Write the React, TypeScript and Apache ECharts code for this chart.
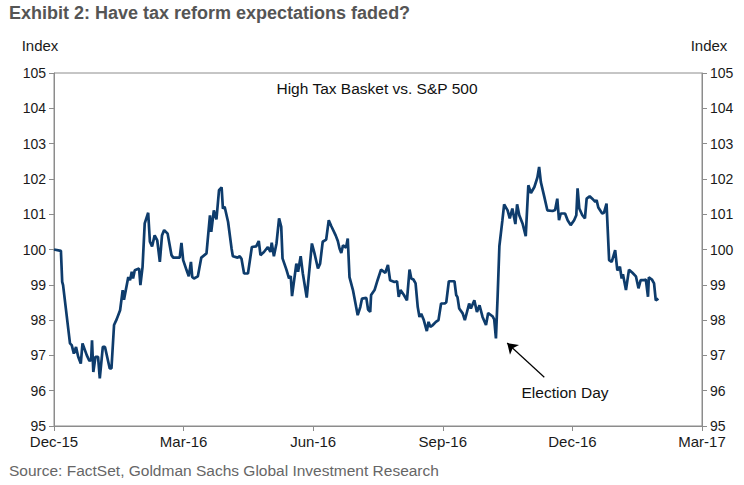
import React, { useEffect, useRef } from "react";
import * as echarts from "echarts";

const chartTitle = "Exhibit 2: Have tax reform expectations faded?";
const seriesName = "High Tax Basket vs. S&P 500";
const sourceText = "Source: FactSet, Goldman Sachs Global Investment Research";
const xTickLabels = ["Dec-15", "Mar-16", "Jun-16", "Sep-16", "Dec-16", "Mar-17"];
const yMin = 95;
const yMax = 105;

// months elapsed since Dec-15 (as placed on the chart's axis)
const monthsSinceDec15 = [
  0, 0.16, 0.19, 0.21, 0.37, 0.41, 0.46, 0.51, 0.56, 0.62, 0.66, 0.76, 0.82, 0.86, 0.88, 0.91, 0.96, 1.02, 1.06, 1.13,
  1.18, 1.23, 1.29, 1.33, 1.39, 1.45, 1.53, 1.59, 1.62, 1.72, 1.76, 1.8, 1.83, 1.87, 1.97, 2.0, 2.05, 2.1, 2.18, 2.22,
  2.27, 2.33, 2.39, 2.45, 2.5, 2.55, 2.63, 2.72, 2.76, 2.91, 2.95, 2.99, 3.07, 3.12, 3.17, 3.2, 3.24, 3.33, 3.41, 3.53,
  3.61, 3.64, 3.7, 3.76, 3.82, 3.88, 3.91, 3.95, 4.03, 4.11, 4.14, 4.25, 4.3, 4.34, 4.4, 4.49, 4.58, 4.68, 4.74, 4.78,
  4.86, 4.95, 5.01, 5.04, 5.09, 5.15, 5.21, 5.26, 5.29, 5.38, 5.44, 5.48, 5.51, 5.61, 5.65, 5.71, 5.76, 5.85, 5.97, 6.03,
  6.11, 6.16, 6.22, 6.3, 6.36, 6.42, 6.52, 6.57, 6.61, 6.65, 6.69, 6.76, 6.8, 6.84, 6.92, 7.03, 7.09, 7.13, 7.23, 7.27,
  7.32, 7.34, 7.42, 7.49, 7.57, 7.67, 7.73, 7.78, 7.88, 7.94, 7.98, 8.02, 8.1, 8.17, 8.23, 8.27, 8.32, 8.37, 8.42, 8.46,
  8.5, 8.56, 8.63, 8.67, 8.71, 8.77, 8.84, 8.9, 8.96, 9.04, 9.08, 9.14, 9.27, 9.31, 9.34, 9.38, 9.46, 9.51, 9.56, 9.61,
  9.65, 9.73, 9.79, 9.85, 9.92, 10.0, 10.05, 10.15, 10.19, 10.23, 10.27, 10.31, 10.38, 10.42, 10.5, 10.55, 10.61, 10.68,
  10.72, 10.77, 10.85, 10.92, 10.98, 11.04, 11.12, 11.19, 11.23, 11.27, 11.35, 11.42, 11.54, 11.6, 11.65, 11.69, 11.73,
  11.83, 11.89, 11.96, 12.04, 12.09, 12.12, 12.16, 12.23, 12.29, 12.33, 12.4, 12.46, 12.53, 12.56, 12.6, 12.69, 12.73,
  12.79, 12.85, 12.91, 12.99, 13.04, 13.1, 13.14, 13.17, 13.24, 13.31, 13.39, 13.47, 13.53, 13.58, 13.66, 13.7, 13.75,
  13.77, 13.84, 13.89, 13.93, 13.99,
];

const basketVsSpx = [
  100.0, 99.96, 99.08, 98.99, 97.34, 97.29, 97.05, 97.24, 96.96, 96.77, 97.34, 97.0, 96.84, 96.88, 97.43, 96.53, 96.96, 96.96, 96.35, 97.24,
  97.24, 96.96, 96.63, 96.63, 97.86, 98.02, 98.28, 98.85, 98.58, 99.22, 99.13, 99.37, 99.18, 99.41, 99.46, 98.99, 99.51, 100.74, 101.04, 100.22,
  100.09, 100.4, 100.26, 99.65, 100.4, 100.55, 100.45, 99.84, 99.77, 99.77, 100.19, 99.7, 99.41, 99.24, 99.65, 99.22, 99.18, 99.24, 99.77, 99.89,
  100.97, 100.5, 101.11, 100.85, 101.68, 101.76, 101.16, 101.21, 100.78, 100.03, 99.81, 99.77, 99.81, 99.74, 99.32, 99.32, 100.07, 100.09, 100.24, 99.84,
  99.93, 100.07, 99.93, 100.19, 99.81, 100.17, 100.88, 100.64, 99.75, 99.43, 99.18, 99.25, 98.68, 99.6, 99.37, 99.81, 99.32, 98.64, 100.17, 99.89,
  99.46, 99.6, 100.22, 100.28, 100.83, 100.66, 100.4, 100.24, 100.03, 99.9, 100.12, 100.05, 100.31, 99.22, 98.85, 98.14, 98.37, 98.61, 98.63, 98.3,
  98.23, 98.71, 98.85, 99.13, 99.43, 99.34, 99.56, 99.13, 99.08, 99.1, 98.66, 98.85, 98.71, 98.56, 99.43, 99.18, 99.15, 99.04, 98.37, 98.09,
  98.18, 98.0, 97.69, 97.95, 97.81, 97.86, 97.95, 98.0, 98.47, 98.47, 98.5, 99.1, 99.1, 98.71, 98.65, 98.33, 98.19, 98.0, 98.23, 98.47,
  98.33, 98.56, 98.23, 98.42, 98.09, 97.86, 98.2, 98.11, 98.02, 97.48, 98.7, 100.1, 100.83, 101.28, 101.11, 100.88, 101.16, 100.72,
  101.28, 100.97, 100.72, 100.38, 101.82, 101.6, 101.77, 102.04, 102.34, 101.91, 101.49, 101.11, 101.09, 101.12, 101.44, 100.83, 101.02,
  101.02, 100.83, 100.69, 100.83, 100.97, 101.73, 101.16, 100.97, 100.88, 101.44, 101.51, 101.44, 101.35, 101.4, 101.19, 101.02, 101.04,
  101.3, 99.7, 99.65, 99.98, 99.41, 99.51, 99.18, 99.3, 98.85, 99.43, 99.34, 99.24, 98.9, 99.13, 99.13, 99.15, 98.66,
  99.21, 99.15, 99.04, 98.56, 98.61,
];

// Election Day arrow: tail and head in data coordinates [months, index]
const electionArrowTail = [11.35, 96.38];
const electionArrowHead = [10.49, 97.35];
const electionLabel = "Election Day";

const FONT = "'Liberation Sans', Arial, sans-serif";

export default function App() {
  const ref = useRef<HTMLDivElement>(null);

  useEffect(() => {
    if (!ref.current) return;
    const chart = echarts.init(ref.current, undefined, { renderer: "svg" });
    const data = monthsSinceDec15.map((m, i) => [m, basketVsSpx[i]]);
    const axisLine = { show: true, lineStyle: { color: "#8c8c8c", width: 1 } };
    const axisTick = { show: true, length: 5, lineStyle: { color: "#8c8c8c" } };

    chart.setOption({
      animation: false,
      backgroundColor: "#ffffff",
      textStyle: { fontFamily: FONT },
      title: {
        text: chartTitle,
        left: 9,
        top: 4,
        padding: 0,
        textStyle: { fontFamily: FONT, fontSize: 18, fontWeight: "bold", color: "#555555" },
      },
      grid: {
        left: 54,
        right: 42,
        top: 73,
        bottom: 59,
        show: true,
        borderColor: "#8c8c8c",
        borderWidth: 1,
      },
      xAxis: {
        type: "value",
        min: 0,
        max: 15,
        interval: 3,
        axisLine,
        axisTick,
        splitLine: { show: false },
        axisLabel: {
          margin: 8,
          fontSize: 15,
          lineHeight: 15,
          color: "#1a1a1a",
          fontFamily: FONT,
          formatter: (v: number) => xTickLabels[Math.round(v / 3)] ?? "",
        },
      },
      yAxis: [
        {
          type: "value",
          position: "left",
          min: yMin,
          max: yMax,
          interval: 1,
          name: "Index",
          nameLocation: "end",
          nameGap: 20,
          nameTextStyle: { fontSize: 15, color: "#1a1a1a", fontFamily: FONT, align: "center", padding: [0, 28, 0, 0] },
          axisLine,
          axisTick,
          splitLine: { show: false },
          axisLabel: { margin: 8, fontSize: 14, lineHeight: 13, color: "#1a1a1a", fontFamily: FONT },
        },
        {
          type: "value",
          position: "right",
          min: yMin,
          max: yMax,
          interval: 1,
          name: "Index",
          nameLocation: "end",
          nameGap: 20,
          nameTextStyle: { fontSize: 15, color: "#1a1a1a", fontFamily: FONT, align: "center", padding: [0, 0, 0, 14] },
          axisLine,
          axisTick,
          splitLine: { show: false },
          axisLabel: { margin: 8, fontSize: 14, lineHeight: 13, color: "#1a1a1a", fontFamily: FONT },
        },
      ],
      graphic: [
        {
          type: "text",
          left: 9,
          top: 462,
          style: { text: sourceText, font: `15.5px ${FONT}`, fill: "#666666" },
        },
        {
          type: "text",
          x: 377,
          y: 88,
          style: { text: seriesName, font: `15.5px ${FONT}`, fill: "#111111", align: "center", verticalAlign: "middle" },
        },
        {
          type: "text",
          x: 565,
          y: 392,
          style: { text: electionLabel, font: `15.5px ${FONT}`, fill: "#111111", align: "center", verticalAlign: "middle" },
        },
      ],
      series: [
        {
          type: "line",
          name: seriesName,
          data,
          showSymbol: false,
          symbol: "none",
          lineStyle: { color: "#0e3c6c", width: 2.7 },
          itemStyle: { color: "#0e3c6c" },
          markLine: {
            silent: true,
            symbol: ["none", "arrow"],
            symbolSize: 10,
            label: { show: false },
            lineStyle: { color: "#000000", width: 1.2, type: "solid" },
            emphasis: { disabled: true },
            data: [[{ coord: electionArrowTail }, { coord: electionArrowHead }]],
          },
        },
      ],
    });

    return () => chart.dispose();
  }, []);

  return (
    <div
      ref={ref}
      style={{ position: "fixed", left: 0, top: 0, width: 744, height: 485, background: "#fff" }}
    />
  );
}
